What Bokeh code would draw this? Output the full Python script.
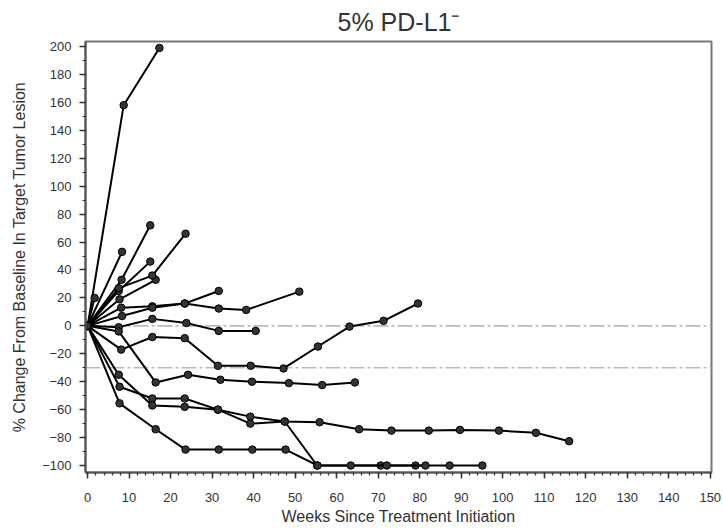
from bokeh.plotting import figure
from bokeh.models import Span, FixedTicker, Range1d
from bokeh.embed import file_html
from bokeh.resources import INLINE

title_text = "5% PD-L1\u207b"
x_label = "Weeks Since Treatment Initiation"
y_label = "% Change From Baseline In Target Tumor Lesion"

x_ticks = list(range(0, 151, 10))
y_ticks = list(range(-100, 201, 20))
ref_levels = [0, -30]

s1_w = [0, 8.7, 17.3]
s1_v = [0, 158, 199]
s2_w = [0, 1.7]
s2_v = [0, 20]
s3_w = [0, 8.3]
s3_v = [0, 53]
s4_w = [0, 8.2, 15.1]
s4_v = [0, 33, 72]
s5_w = [0, 7.5, 15.1]
s5_v = [0, 25, 46]
s6_w = [0, 7.7, 16.4]
s6_v = [0, 19, 33]
s7_w = [0, 7.5, 15.6, 23.6]
s7_v = [0, 27, 36, 66]
s8_w = [0, 8.1, 15.6, 23.4, 31.6, 38.2, 51.0]
s8_v = [0, 13, 14, 16, 12.4, 11.4, 24.5]
s9_w = [0, 8.3, 15.6, 23.4, 31.6]
s9_v = [0, 7, 13, 16, 25]
s10_w = [0, 7.5, 15.6, 23.8, 31.6, 40.5]
s10_v = [0, -1, 5, 2, -3.6, -3.6]
s11_w = [0, 8.1, 15.6, 23.4, 31.4, 39.3, 47.2, 55.5, 63.1, 71.3, 79.6]
s11_v = [0, -17, -8, -8.8, -28.6, -28.6, -30.5, -14.8, -0.5, 3.6, 16]
s12_w = [0, 7.5, 16.4, 24.2, 32.0, 39.6, 48.5, 56.5, 64.4]
s12_v = [0, -4, -40.5, -35, -38.6, -40, -41, -42.4, -40.5]
s13_w = [0, 7.7, 15.6, 23.4, 31.4, 39.2, 47.5, 55.9, 65.4, 73.2, 82.2, 89.7, 99.1, 108, 116]
s13_v = [0, -43.6, -52, -52, -60, -65, -68.5, -69, -74, -75, -75, -74.5, -75, -76.6, -82.6]
s14_w = [0, 7.5, 15.6, 23.4, 31.4, 39.2, 47.5, 55.3, 70.6, 79.0, 87.2, 95.1]
s14_v = [0, -35, -57, -58, -60, -70, -68.5, -100, -100, -100, -100, -100]
s15_w = [0, 7.7, 16.4, 23.6, 31.6, 39.7, 47.7, 55.4, 63.4, 72.1, 81.4]
s15_v = [0, -55.5, -74, -88.6, -88.6, -88.6, -88.6, -100, -100, -100, -100]

series = [
    (s1_w, s1_v), (s2_w, s2_v), (s3_w, s3_v), (s4_w, s4_v), (s5_w, s5_v),
    (s6_w, s6_v), (s7_w, s7_v), (s8_w, s8_v), (s9_w, s9_v), (s10_w, s10_v),
    (s11_w, s11_v), (s12_w, s12_v), (s13_w, s13_v), (s14_w, s14_v), (s15_w, s15_v),
]

FONT = "Liberation Sans"

p = figure(
    width=722, height=529,
    output_backend="svg", toolbar_location=None,
    x_range=Range1d(-0.5, 150.3), y_range=Range1d(-105, 203.6),
    min_border_left=85, min_border_right=11, min_border_top=40, min_border_bottom=57,
)

p.title.text = title_text
p.title.align = "center"
p.title.text_font = FONT
p.title.text_font_size = "25px"
p.title.text_font_style = "normal"
p.title.text_color = "#333333"
p.title.standoff = 11

p.xgrid.visible = False
p.ygrid.visible = False
p.outline_line_color = "#777777"
p.outline_line_width = 2
p.background_fill_color = "white"
p.border_fill_color = "white"

for lvl in ref_levels:
    p.add_layout(Span(location=lvl, dimension="width", line_color="#bbbbbb",
                      line_width=1.6, line_dash="15 3 3 3", level="underlay"))

for w, v in series:
    p.line(w, v, line_color="black", line_width=2)
    p.scatter(w, v, size=7.5, marker="circle", fill_color="#333333",
              line_color="black", line_width=1)

p.xaxis.ticker = FixedTicker(ticks=x_ticks, minor_ticks=[t for t in range(0, 151, 2)])
p.yaxis.ticker = FixedTicker(ticks=y_ticks, minor_ticks=list(range(-100, 201, 10)))

for ax in (p.xaxis[0], p.yaxis[0]):
    ax.axis_line_color = "#555555"
    ax.axis_line_width = 2
    ax.major_tick_line_color = "#333333"
    ax.minor_tick_line_color = "#333333"
    ax.major_tick_line_width = 1.5
    ax.minor_tick_line_width = 1.2
    ax.major_tick_out = 6
    ax.major_tick_in = 0
    ax.minor_tick_out = 3
    ax.minor_tick_in = 0
    ax.major_label_text_font = FONT
    ax.major_label_text_font_size = "13px"
    ax.major_label_text_color = "#333333"
    ax.axis_label_text_font = FONT
    ax.axis_label_text_font_size = "16px"
    ax.axis_label_text_font_style = "normal"
    ax.axis_label_text_color = "#333333"

p.xaxis.axis_label = x_label
p.yaxis.axis_label = y_label
p.xaxis.major_label_standoff = 14
p.xaxis.axis_label_standoff = 3
p.yaxis.major_label_standoff = 8
p.yaxis.axis_label_standoff = 11

open("out.html", "w").write(file_html(p, INLINE))
